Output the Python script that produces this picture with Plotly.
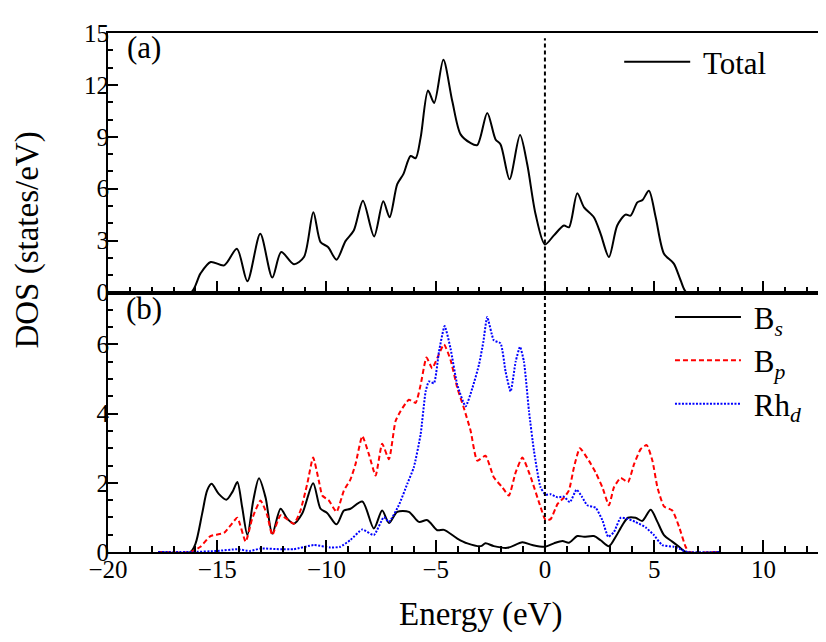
import plotly.graph_objects as go
from plotly.subplots import make_subplots

# ---------------- data ----------------
total_E = [-17.7, -16.2, -15.77, -15.3, -14.68, -14.1, -13.62, -13.03, -12.48, -12.07, -11.49,
           -11.03, -10.6, -10.27, -9.93, -9.54, -9.13, -8.75, -8.33, -7.82, -7.4, -7.11, -6.76,
           -6.48, -6.15, -5.92, -5.69, -5.35, -5.07, -4.65, -4.24, -3.86, -3.43, -3.1, -2.64,
           -2.26, -2.03, -1.62, -1.14, -0.81, -0.43, 0.0, 0.41, 0.87, 1.1, 1.48, 1.79, 2.24,
           2.55, 2.93, 3.31, 3.69, 3.92, 4.23, 4.46, 4.76, 5.07, 5.45, 5.9, 6.21, 6.49, 8.04]
total_dos = [0, 0, 1.09, 1.76, 1.57, 2.53, 0.65, 3.39, 0.86, 2.34, 1.63,
             2.05, 4.64, 2.91, 2.63, 1.9, 2.97, 3.58, 5.3, 3.24, 5.27, 4.35, 6.26,
             6.84, 7.89, 7.76, 8.95, 11.67, 10.96, 13.45, 11.05, 9.14, 8.66, 8.52, 10.38,
             8.85, 8.56, 6.55, 9.1, 7.41, 4.54, 2.78, 3.3, 3.87, 3.77, 5.73, 4.92, 4.35,
             3.39, 2.05, 3.87, 4.5, 4.44, 5.21, 5.34, 5.88, 4.35, 2.24, 1.67, 0.71, 0, 0]

bs_E = [-17.7, -16.23, -15.99, -15.69, -15.46, -15.26, -14.93, -14.58, -14.31, -14.08, -13.86,
        -13.62, -13.35, -13.09, -12.79, -12.48, -12.1, -11.79, -11.49, -11.11, -10.61, -10.27,
        -9.97, -9.54, -9.2, -8.9, -8.36, -7.83, -7.45, -7.14, -6.76, -6.23, -5.77, -5.38,
        -4.93, -4.62, -4.01, -3.55, -2.94, -2.72, -2.34, -1.72, -1.03, -0.58, 0.0, 0.41, 0.8,
        1.1, 1.48, 1.79, 2.24, 2.55, 2.93, 3.24, 3.54, 3.8, 4.15, 4.46, 4.84, 5.15, 5.45,
        5.83, 6.14, 6.45, 8.04]
bs_dos = [0, 0, 0.25, 1.11, 1.78, 1.97, 1.68, 1.51, 1.73, 2.02, 1.3,
          0.49, 1.49, 2.13, 1.58, 0.53, 1.25, 0.96, 0.82, 1.11, 1.99, 1.25,
          1.13, 0.8, 1.2, 1.25, 1.46, 0.68, 1.2, 0.84, 1.16, 1.16, 0.87, 0.92,
          0.63, 0.64, 0.39, 0.25, 0.17, 0.25, 0.17, 0.12, 0.28, 0.2, 0.15, 0.25, 0.32,
          0.27, 0.46, 0.44, 0.46, 0.34, 0.17, 0.44, 0.77, 0.99, 0.99, 0.9, 1.22, 0.87, 0.49,
          0.3, 0.15, 0, 0]

bp_E = [-17.7, -16.23, -15.77, -15.31, -14.69, -14.39, -14.08, -13.7, -13.4, -13.02, -12.71,
        -12.48, -12.1, -11.49, -11.19, -10.88, -10.61, -10.35, -10.19, -9.89, -9.54, -9.2,
        -8.9, -8.67, -8.36, -8.06, -7.75, -7.45, -7.14, -6.84, -6.61, -6.23, -5.92, -5.69,
        -5.42, -5.16, -4.93, -4.62, -4.32, -4.01, -3.71, -3.4, -3.1, -2.72, -2.34, -1.95,
        -1.65, -1.34, -1.03, -0.65, -0.2, 0.03, 0.26, 0.58, 0.87, 1.1, 1.33, 1.6, 2.01, 2.32,
        2.63, 2.93, 3.16, 3.47, 3.8, 4.08, 4.38, 4.66, 4.92, 5.15, 5.45, 5.83, 6.14, 6.44,
        6.6, 8.04]
bp_dos = [0, 0, 0.15, 0.46, 0.55, 0.77, 0.99, 0.3, 0.96, 1.49, 1.06,
          0.49, 1.06, 0.82, 1.2, 1.97, 2.73, 2.06, 1.63, 1.49, 1.16, 1.78,
          2.1, 2.54, 3.35, 2.83, 2.21, 3.13, 2.68, 3.78, 4.07, 4.4, 4.31, 4.83,
          5.62, 5.31, 5.6, 6.0, 5.55, 4.74, 4.16, 3.5, 2.64, 2.78, 2.16, 1.87,
          1.63, 2.3, 2.73, 2.16, 1.3, 0.92, 0.95, 1.39, 1.57, 1.78, 2.45, 3.0, 2.64, 2.3,
          1.87, 1.35, 1.87, 2.14, 2.02, 2.54, 2.97, 3.09, 2.64, 1.87, 1.32, 1.2, 0.73, 0.15,
          0, 0]

rhd_E = [-17.7, -16.2, -15.0, -14.08, -13.5, -13.02, -12.1, -11.5, -10.58, -9.81, -9.37,
         -8.9, -8.36, -7.83, -7.37, -7.14, -6.69, -6.3, -6.0, -5.69, -5.46, -5.31, -5.08,
         -4.85, -4.59, -4.32, -4.01, -3.63, -3.32, -3.02, -2.82, -2.64, -2.34, -2.03, -1.8,
         -1.57, -1.34, -1.14, -0.96, -0.73, -0.5, -0.2, 0.03, 0.26, 0.58, 0.87, 1.14, 1.45,
         1.71, 1.94, 2.32, 2.63, 2.9, 3.16, 3.47, 3.77, 4.15, 4.61, 4.99, 5.37, 5.9, 6.21,
         6.52, 8.04]
rhd_dos = [0, 0, 0.03, 0.08, 0.03, 0.1, 0.08, 0.08, 0.2, 0.13, 0.15,
           0.35, 0.65, 0.49, 1.01, 0.87, 1.35, 1.97, 2.45, 3.4, 4.64, 4.93, 4.88,
           5.79, 6.53, 5.88, 4.83, 4.21, 4.74, 5.41, 6.07, 6.79, 6.12, 6.03, 5.21,
           4.64, 5.5, 5.93, 5.5, 4.07, 2.92, 1.87, 1.66, 1.67, 1.58, 1.6, 1.44, 1.8,
           1.58, 1.35, 1.28, 0.92, 0.44, 0.58, 0.99, 0.96, 0.87, 0.71, 0.49, 0.2, 0.15, 0.08,
           0, 0]

x_ticks = [-20, -15, -10, -5, 0, 5, 10]
x_tick_text = ["\u221220", "\u221215", "\u221210", "\u22125", "0", "5", "10"]
ya_ticks = [0, 3, 6, 9, 12, 15]
yb_ticks = [0, 2, 4, 6]

# ---------------- figure ----------------
FONT = "Liberation Serif"
fig = make_subplots(rows=2, cols=1, shared_xaxes=True, vertical_spacing=0)

fig.add_trace(go.Scatter(x=total_E, y=total_dos, mode="lines", name="\u00a0Total",
                         line=dict(color="black", width=2, shape="spline", smoothing=0.8),
                         legend="legend"), row=1, col=1)
fig.add_trace(go.Scatter(x=bs_E, y=bs_dos, mode="lines", name="\u00a0B<sub><i>s</i></sub>",
                         line=dict(color="black", width=2, shape="spline", smoothing=0.8),
                         legend="legend2"), row=2, col=1)
fig.add_trace(go.Scatter(x=bp_E, y=bp_dos, mode="lines", name="\u00a0B<sub><i>p</i></sub>",
                         line=dict(color="#ff0000", width=2, dash="5px,3px", shape="spline", smoothing=0.5),
                         legend="legend2"), row=2, col=1)
fig.add_trace(go.Scatter(x=rhd_E, y=rhd_dos, mode="lines", name="\u00a0Rh<sub><i>d</i></sub>",
                         line=dict(color="#0000ff", width=2, dash="2px,1.5px", shape="spline", smoothing=0.5),
                         legend="legend2"), row=2, col=1)

axis_common = dict(showline=True, linecolor="black", linewidth=2, mirror=True,
                   showgrid=False, zeroline=False, ticks="inside", tickcolor="black",
                   tickwidth=1.5, tickfont=dict(family=FONT, size=25, color="black"))

fig.update_xaxes(range=[-20, 12.5], tickvals=x_ticks, ticktext=x_tick_text, ticklen=12,
                 ticklabelstandoff=-6,
                 minor=dict(dtick=1, tick0=0, ticklen=6, ticks="inside", tickcolor="black", tickwidth=1.5),
                 **axis_common)
fig.update_xaxes(showticklabels=False, row=1, col=1)
fig.update_xaxes(showticklabels=True, row=2, col=1)

fig.update_yaxes(range=[0, 15], tickvals=ya_ticks, ticklen=10, ticklabelstandoff=-8,
                 minor=dict(dtick=1, tick0=0, ticklen=5, ticks="inside", tickcolor="black", tickwidth=1.5),
                 row=1, col=1, **axis_common)
fig.update_yaxes(range=[0, 7.5], tickvals=yb_ticks, ticklen=10, ticklabelstandoff=-8,
                 minor=dict(dtick=0.5, tick0=0, ticklen=5, ticks="inside", tickcolor="black", tickwidth=1.5),
                 row=2, col=1, **axis_common)

# Fermi level
fig.add_shape(type="line", x0=0, x1=0, y0=0, y1=14.7, xref="x", yref="y",
              line=dict(color="black", width=2, dash="4px,3px"))
fig.add_shape(type="line", x0=0, x1=0, y0=0, y1=1, xref="x2", yref="y2 domain",
              line=dict(color="black", width=2, dash="4px,3px"))

fig.add_annotation(text="(a)", x=0.0507, y=0.973, xref="paper", yref="paper", showarrow=False,
                   xanchor="center", yanchor="middle",
                   font=dict(family=FONT, size=31, color="black"))
fig.add_annotation(text="(b)", x=0.0507, y=0.47, xref="paper", yref="paper", showarrow=False,
                   xanchor="center", yanchor="middle",
                   font=dict(family=FONT, size=31, color="black"))
fig.add_annotation(text="DOS (states/eV)", x=-0.1127, y=0.602, xref="paper", yref="paper",
                   showarrow=False, textangle=-90, xanchor="center", yanchor="middle",
                   font=dict(family=FONT, size=33, color="black"))
fig.add_annotation(text="Energy (eV)", x=0.524, y=-0.12, xref="paper", yref="paper",
                   showarrow=False, xanchor="center", yanchor="middle",
                   font=dict(family=FONT, size=33, color="black"))

fig.update_layout(
    width=826, height=642,
    margin=dict(l=100, r=16, t=20, b=98),
    paper_bgcolor="white", plot_bgcolor="white",
    showlegend=True,
    legend=dict(x=0.72, y=0.996, xanchor="left", yanchor="top", bgcolor="rgba(0,0,0,0)",
                font=dict(family=FONT, size=31, color="black"), itemwidth=66),
    legend2=dict(x=0.7915, y=0.504, xanchor="left", yanchor="top", bgcolor="rgba(0,0,0,0)",
                 font=dict(family=FONT, size=31, color="black"), itemwidth=66,
                 tracegroupgap=0),
)

fig.write_html("out.html")
